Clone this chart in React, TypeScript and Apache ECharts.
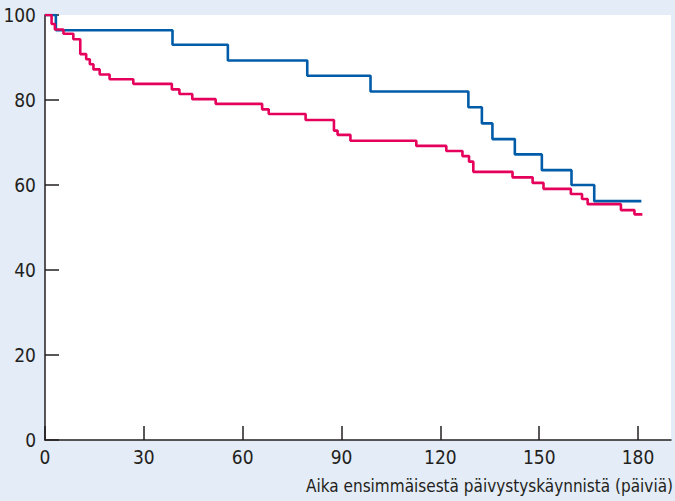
import React, { useEffect, useRef } from "react";
import * as echarts from "echarts";

const xTicks = [0, 30, 60, 90, 120, 150, 180];
const yTicks = [0, 20, 40, 60, 80, 100];
const xAxisTitle = "Aika ensimmäisestä päivystyskäynnistä (päiviä)";

// Blue curve: [day, % ] step points
const blueDays = [0, 3.3, 38.7, 55.5, 79.6, 98.8, 128.5, 132.6, 135.8, 142.6, 150.8, 159.8, 166.7, 181.0];
const blueVals = [100, 96.4, 93.0, 89.3, 85.7, 82.0, 78.3, 74.5, 70.8, 67.2, 63.5, 60.0, 56.2, 56.2];

// Magenta curve
const redDays = [0, 2.0, 3.0, 5.6, 8.6, 10.7, 12.5, 13.6, 14.7, 16.6, 19.6, 26.8, 38.5, 40.8, 44.7, 51.8, 65.9, 67.9, 79.1, 87.7, 88.8, 92.7, 112.7, 121.8, 126.7, 128.7, 130.0, 141.9, 148.0, 151.3, 159.6, 163.0, 164.7, 174.8, 178.9, 181.3];
const redVals = [100, 97.9, 96.6, 95.6, 94.3, 90.8, 89.6, 88.4, 87.2, 86.0, 84.9, 83.8, 82.5, 81.4, 80.2, 79.1, 77.8, 76.7, 75.3, 72.8, 71.8, 70.4, 69.2, 68.0, 66.8, 65.5, 63.1, 61.8, 60.5, 59.1, 57.9, 56.7, 55.5, 54.1, 53.1, 53.1];

const FONT = "'Liberation Sans Narrow', 'DejaVu Sans Condensed', 'Roboto Condensed', 'Noto Sans', sans-serif";
const AXIS_COLOR = "#231f20";

export default function App() {
  const ref = useRef<HTMLDivElement>(null);
  useEffect(() => {
    if (!ref.current) return;
    const chart = echarts.init(ref.current, null, { renderer: "svg" });
    const zip = (xs: number[], ys: number[]) => xs.map((x, i) => [x, ys[i]]);
    chart.setOption({
      animation: false,
      backgroundColor: "#e4ecf7",
      textStyle: { fontFamily: FONT },
      title: {
        text: xAxisTitle,
        right: 2,
        top: 476,
        padding: 0,
        textStyle: {
          color: AXIS_COLOR,
          fontSize: 17,
          fontWeight: "normal",
          fontFamily: FONT,
          lineHeight: 20,
        },
      },
      grid: {
        left: 45,
        right: 4,
        top: 15,
        bottom: 61,
        containLabel: false,
        outerBoundsMode: "none",
        show: true,
        backgroundColor: "#ffffff",
        borderWidth: 0,
      },
      xAxis: {
        type: "value",
        min: 0,
        max: 190,
        interval: 30,
        splitLine: { show: false },
        axisLine: { show: true, onZero: false, lineStyle: { color: AXIS_COLOR, width: 1.5 } },
        axisTick: { show: true, inside: true, length: 14, customValues: xTicks, lineStyle: { color: AXIS_COLOR, width: 1.5 } },
        axisLabel: { customValues: xTicks, color: AXIS_COLOR, fontSize: 19, fontFamily: FONT, margin: 7 },
      },
      yAxis: {
        type: "value",
        min: 0,
        max: 100,
        interval: 20,
        splitLine: { show: false },
        axisLine: { show: true, lineStyle: { color: AXIS_COLOR, width: 1.5 } },
        axisTick: { show: true, inside: true, length: 14, customValues: yTicks, lineStyle: { color: AXIS_COLOR, width: 1.5 } },
        axisLabel: { customValues: yTicks, color: AXIS_COLOR, fontSize: 19, fontFamily: FONT, margin: 9 },
      },
      series: [
        {
          type: "line",
          step: "end",
          data: zip(blueDays, blueVals),
          showSymbol: false,
          lineStyle: { color: "#005ca9", width: 2.6 },
          z: 3,
        },
        {
          type: "line",
          step: "end",
          data: zip(redDays, redVals),
          showSymbol: false,
          lineStyle: { color: "#e5005b", width: 2.6 },
          z: 4,
        },
      ],
    });
    return () => chart.dispose();
  }, []);
  return (
    <div
      ref={ref}
      style={{ position: "fixed", left: 0, top: 0, width: 675, height: 501 }}
    />
  );
}
